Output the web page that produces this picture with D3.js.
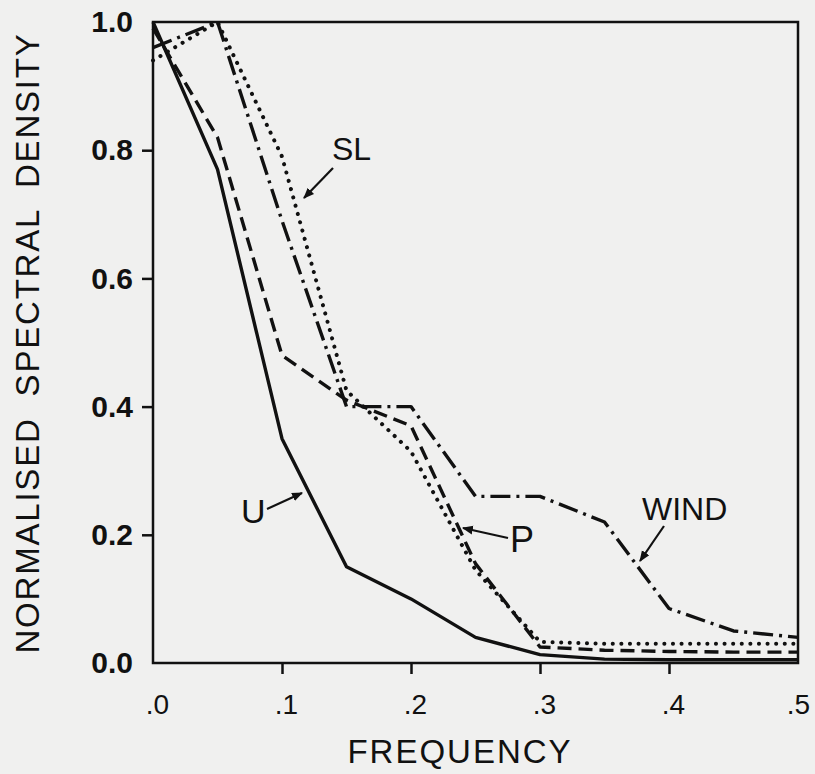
<!DOCTYPE html>
<html>
<head>
<meta charset="utf-8">
<script src="https://cdn.jsdelivr.net/npm/d3@7"></script>
<style>
  body { margin: 0; background: #f0f0ef; }
  svg { display: block; }
  text { font-family: "Liberation Sans", Arial, sans-serif; fill: #111; }
</style>
</head>
<body>
<svg id="chart" width="815" height="774"></svg>
<script>
// frequency steps and the four normalised spectra
var freq     = [0, 0.05, 0.10, 0.15, 0.20, 0.25, 0.30, 0.35, 0.40, 0.45, 0.50];
var uVals    = [1.00, 0.77, 0.35, 0.15, 0.10, 0.04, 0.013, 0.006, 0.005, 0.005, 0.005];
var pVals    = [0.99, 0.82, 0.48, 0.41, 0.37, 0.155, 0.025, 0.02, 0.018, 0.017, 0.017];
var slVals   = [0.94, 1.00, 0.79, 0.425, 0.33, 0.145, 0.033, 0.03, 0.03, 0.03, 0.03];
var windVals = [0.96, 1.00, 0.69, 0.40, 0.40, 0.26, 0.26, 0.22, 0.085, 0.05, 0.04];

var xTicks = [0, 0.1, 0.2, 0.3, 0.4, 0.5];
var yTicks = [0, 0.2, 0.4, 0.6, 0.8, 1.0];

var margin = {left: 153, top: 22, right: 17, bottom: 111};
var svg = d3.select("#chart");
var w = 815 - margin.left - margin.right,
    h = 774 - margin.top - margin.bottom;

var x = d3.scaleLinear().domain([0, 0.5]).range([0, w]);
var y = d3.scaleLinear().domain([0, 1]).range([h, 0]);

var g = svg.append("g").attr("transform", "translate(" + margin.left + "," + margin.top + ")");

// axes
var yAxis = g.append("g")
  .call(d3.axisLeft(y).tickValues(yTicks).tickSize(11).tickPadding(9).tickFormat(d3.format(".1f")));
var xAxis = g.append("g")
  .attr("transform", "translate(0," + h + ")")
  .call(d3.axisBottom(x).tickValues(xTicks).tickSize(11).tickPadding(20)
    .tickFormat(function(d){ return d3.format(".1f")(d).replace(/^0/, ""); }));

[yAxis, xAxis].forEach(function(a){
  a.select(".domain").remove();
  a.selectAll("line").attr("stroke", "#111").attr("stroke-width", 2.5);
  a.selectAll("text").attr("fill", "#111");
});
yAxis.selectAll("text").style("font-size", "30px").style("font-weight", "bold");
xAxis.selectAll("text").style("font-size", "28px")
  .attr("dx", function(d){ return d === 0.5 ? 0 : 4; });
// no tick marks at the corners
yAxis.selectAll(".tick").filter(function(d){ return d === 0 || d === 1; }).select("line").remove();
xAxis.selectAll(".tick").filter(function(d){ return d === 0 || d === 0.5; }).select("line").remove();

// frame
g.append("rect").attr("width", w).attr("height", h)
  .attr("fill", "none").attr("stroke", "#111").attr("stroke-width", 2.5);

// spectra
var series = [
  {vals: uVals,    dash: null,         cap: "butt"},
  {vals: pVals,    dash: "14 7",       cap: "butt"},
  {vals: slVals,   dash: "0.1 8.5",    cap: "round"},
  {vals: windVals, dash: "20 6 3 6",   cap: "butt"}
];
var line = d3.line().x(function(d){ return x(d[0]); }).y(function(d){ return y(d[1]); });

series.forEach(function(s){
  g.append("path")
    .datum(d3.zip(freq, s.vals))
    .attr("d", line)
    .attr("fill", "none")
    .attr("stroke", "#111")
    .attr("stroke-width", s.cap === "round" ? 4 : 3.4)
    .attr("stroke-linecap", s.cap)
    .attr("stroke-linejoin", "round")
    .attr("stroke-dasharray", s.dash);
});

// arrow heads
svg.append("defs").append("marker")
  .attr("id", "arr").attr("viewBox", "0 0 10 10").attr("refX", 9).attr("refY", 5)
  .attr("markerWidth", 5).attr("markerHeight", 5).attr("orient", "auto")
  .append("path").attr("d", "M0,1 L10,5 L0,9 Z").attr("fill", "#111");

// curve labels with their pointers (page coordinates)
var labels = [
  {t: "SL",   x: 332, y: 160, size: 32, a: [333, 168, 304, 198]},
  {t: "U",    x: 241, y: 523, size: 34, a: [267, 509, 302, 493]},
  {t: "P",    x: 510, y: 552, size: 36, a: [508, 538, 463, 528]},
  {t: "WIND", x: 642, y: 520, size: 32, a: [664, 526, 640, 561]}
];
labels.forEach(function(l){
  svg.append("text").attr("x", l.x).attr("y", l.y).style("font-size", l.size + "px").text(l.t);
  svg.append("line")
    .attr("x1", l.a[0]).attr("y1", l.a[1]).attr("x2", l.a[2]).attr("y2", l.a[3])
    .attr("stroke", "#111").attr("stroke-width", 2.2).attr("marker-end", "url(#arr)");
});

// axis titles
svg.append("text")
  .attr("x", 460).attr("y", 763).attr("text-anchor", "middle")
  .style("font-size", "33px").style("letter-spacing", "2px")
  .text("FREQUENCY");
svg.append("text")
  .attr("transform", "translate(39,343) rotate(-90)")
  .attr("text-anchor", "middle")
  .style("font-size", "33px").style("letter-spacing", "1.8px").style("word-spacing", "10px")
  .text("NORMALISED SPECTRAL DENSITY");
</script>
</body>
</html>
